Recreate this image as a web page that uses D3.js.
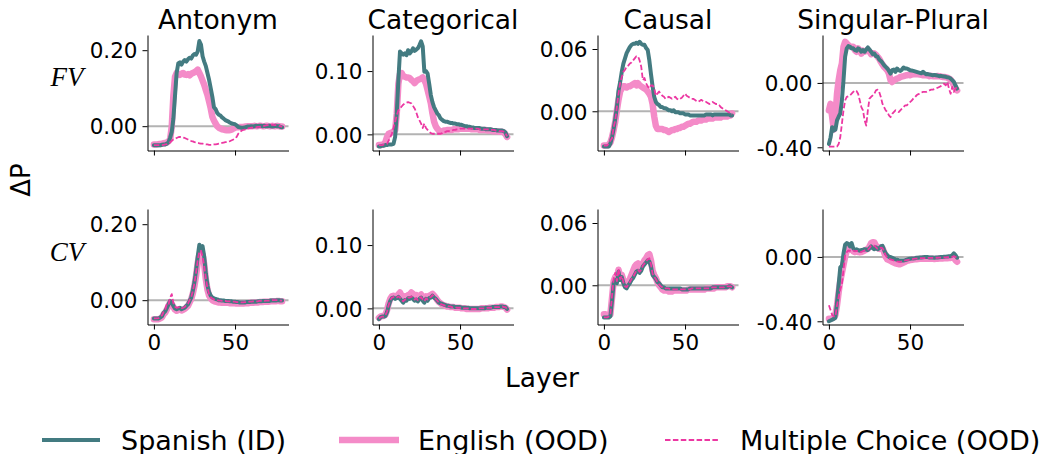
<!DOCTYPE html>
<html>
<head>
<meta charset="utf-8">
<script src="https://cdn.jsdelivr.net/npm/d3@7"></script>
<style>
  body { margin: 0; background: #fff; }
  svg { font-family: "DejaVu Sans", sans-serif; }
</style>
</head>
<body>
<div id="chart"></div>
<script>
// ---- data: delta P per layer (0..79) ----
const tasks = ["Antonym", "Categorical", "Causal", "Singular-Plural"];
const rowLabels = ["FV", "CV"];
const seriesNames = ["English (OOD)", "Spanish (ID)", "Multiple Choice (OOD)"];
const yTicks = [[0, 0.2], [0, 0.1], [0, 0.06], [-0.4, 0]];
const yDomains = [[-0.064, 0.240], [-0.0255, 0.157], [-0.0378, 0.0735], [-0.42, 0.298]];
const xTicks = [0, 50];

// Function vectors (top row)
const antFvSpanish = [-0.05,-0.05,-0.05,-0.05,-0.05,-0.049,-0.048,-0.048,-0.046,-0.042,
  -0.03,-0.015,0.02,0.08,0.14,0.165,0.168,0.162,0.17,0.174,
  0.17,0.176,0.18,0.178,0.186,0.19,0.188,0.197,0.224,0.215,
  0.184,0.17,0.158,0.14,0.122,0.1,0.078,0.05,0.045,0.035,
  0.03,0.028,0.023,0.02,0.016,0.014,0.012,0.009,0.007,0.006,
  0.005,0.002,-0.002,-0.003,-0.004,-0.004,-0.003,-0.002,-0.001,-0.001,
  0.0,-0.001,0.0,0.001,0.0,0.001,0.001,0.0,0.001,0.0,
  0.0,0.001,0.0,-0.001,0.0,0.001,0.0,0.0,-0.002,-0.003];
const antFvEnglish = [-0.048,-0.048,-0.048,-0.047,-0.047,-0.046,-0.045,-0.044,-0.043,-0.04,
  -0.035,0.0,0.08,0.13,0.14,0.138,0.135,0.138,0.14,0.136,
  0.135,0.137,0.134,0.138,0.14,0.142,0.145,0.149,0.14,0.131,
  0.12,0.109,0.095,0.082,0.065,0.047,0.025,0.015,0.007,0.0,
  -0.004,-0.006,-0.008,-0.009,-0.01,-0.011,-0.011,-0.01,-0.009,-0.006,
  -0.004,-0.003,-0.003,-0.002,-0.002,-0.002,-0.001,-0.001,0.0,0.0,
  0.0,0.0,0.001,0.0,0.0,0.001,0.001,0.0,0.0,0.001,
  0.001,0.0,0.0,0.001,0.0,0.0,0.001,0.0,-0.001,-0.001];
const antFvMc = [-0.05,-0.05,-0.05,-0.05,-0.05,-0.05,-0.049,-0.048,-0.047,-0.045,
  -0.042,-0.038,-0.035,-0.033,-0.031,-0.029,-0.028,-0.029,-0.03,-0.031,
  -0.033,-0.035,-0.037,-0.039,-0.04,-0.042,-0.043,-0.044,-0.045,-0.046,
  -0.046,-0.047,-0.048,-0.048,-0.049,-0.049,-0.049,-0.048,-0.048,-0.047,
  -0.046,-0.045,-0.044,-0.043,-0.042,-0.042,-0.04,-0.039,-0.037,-0.035,
  -0.033,-0.028,-0.02,-0.015,-0.012,-0.01,-0.009,-0.007,-0.006,-0.005,
  -0.004,-0.004,-0.003,-0.003,-0.002,-0.002,-0.001,0.0,0.001,0.002,
  0.003,0.003,0.003,0.004,0.003,0.003,0.002,0.001,0.0,-0.002];

const catFvSpanish = [-0.019,-0.019,-0.018,-0.018,-0.017,-0.017,-0.016,-0.016,-0.016,-0.015,
  -0.004,0.033,0.086,0.131,0.128,0.126,0.128,0.125,0.133,0.128,
  0.131,0.136,0.132,0.134,0.136,0.141,0.147,0.139,0.099,0.1,
  0.096,0.08,0.062,0.051,0.043,0.038,0.033,0.03,0.025,0.023,
  0.021,0.02,0.02,0.019,0.018,0.018,0.017,0.017,0.016,0.016,
  0.015,0.015,0.014,0.013,0.013,0.012,0.012,0.011,0.011,0.01,
  0.01,0.01,0.01,0.009,0.009,0.009,0.008,0.008,0.008,0.008,
  0.007,0.007,0.007,0.006,0.006,0.006,0.006,0.005,0.003,-0.003];
const catFvEnglish = [-0.017,-0.017,-0.016,-0.016,-0.012,-0.004,0.001,0.002,0.003,0.005,
  0.006,0.033,0.08,0.096,0.097,0.092,0.091,0.09,0.09,0.089,
  0.086,0.084,0.081,0.084,0.086,0.087,0.088,0.09,0.086,0.08,
  0.07,0.06,0.049,0.033,0.02,0.013,0.009,0.006,0.004,0.005,
  0.006,0.006,0.007,0.007,0.007,0.007,0.008,0.008,0.008,0.008,
  0.009,0.009,0.009,0.009,0.009,0.009,0.009,0.008,0.008,0.008,
  0.008,0.008,0.007,0.007,0.007,0.007,0.007,0.006,0.006,0.006,
  0.005,0.005,0.005,0.005,0.004,0.004,0.004,0.003,0.0,-0.004];
const catFvMc = [-0.017,-0.017,-0.017,-0.016,-0.016,-0.015,-0.01,-0.005,0.001,0.01,
  0.02,0.03,0.038,0.041,0.044,0.047,0.049,0.05,0.051,0.05,
  0.049,0.045,0.041,0.035,0.027,0.022,0.017,0.01,0.017,0.01,
  0.007,0.004,0.002,0.001,0.001,0.001,0.001,0.001,0.001,0.002,
  0.004,0.004,0.005,0.005,0.006,0.006,0.007,0.007,0.008,0.008,
  0.009,0.009,0.009,0.009,0.009,0.009,0.009,0.009,0.009,0.009,
  0.009,0.009,0.008,0.008,0.008,0.008,0.008,0.008,0.007,0.007,
  0.007,0.007,0.006,0.006,0.005,0.005,0.005,0.004,0.002,-0.003];

const cauFvSpanish = [-0.034,-0.034,-0.034,-0.034,-0.031,-0.025,-0.017,-0.007,0.004,0.02,
  0.028,0.038,0.046,0.051,0.056,0.059,0.062,0.064,0.065,0.065,
  0.066,0.065,0.067,0.065,0.064,0.064,0.061,0.059,0.049,0.036,
  0.024,0.014,0.009,0.007,0.006,0.004,0.004,0.003,0.003,0.002,
  0.001,0.001,0.0,0.001,-0.001,-0.001,-0.001,-0.002,-0.002,-0.002,
  -0.003,-0.003,-0.003,-0.004,-0.004,-0.004,-0.004,-0.004,-0.004,-0.004,
  -0.004,-0.004,-0.004,-0.003,-0.003,-0.003,-0.003,-0.004,-0.003,-0.003,
  -0.003,-0.003,-0.003,-0.003,-0.003,-0.003,-0.003,-0.003,-0.004,-0.004];
const cauFvEnglish = [-0.033,-0.033,-0.033,-0.032,-0.03,-0.025,-0.018,-0.01,0.001,0.011,
  0.019,0.022,0.024,0.024,0.023,0.024,0.024,0.025,0.026,0.027,
  0.025,0.027,0.025,0.024,0.023,0.022,0.021,0.019,0.017,0.014,
  0.007,-0.005,-0.014,-0.017,-0.017,-0.017,-0.017,-0.018,-0.018,-0.019,
  -0.02,-0.019,-0.018,-0.018,-0.017,-0.017,-0.016,-0.016,-0.015,-0.015,
  -0.014,-0.013,-0.012,-0.012,-0.011,-0.01,-0.01,-0.01,-0.009,-0.009,
  -0.009,-0.008,-0.008,-0.008,-0.007,-0.007,-0.007,-0.007,-0.006,-0.006,
  -0.006,-0.006,-0.006,-0.005,-0.005,-0.005,-0.005,-0.004,-0.004,-0.002];
const cauFvMc = [-0.033,-0.033,-0.033,-0.031,-0.028,-0.026,-0.015,-0.009,0.004,0.017,
  0.027,0.033,0.038,0.04,0.043,0.044,0.046,0.047,0.049,0.051,
  0.053,0.053,0.049,0.043,0.03,0.032,0.027,0.024,0.022,0.025,
  0.025,0.022,0.015,0.017,0.019,0.017,0.015,0.014,0.012,0.013,
  0.014,0.013,0.012,0.013,0.014,0.012,0.011,0.012,0.013,0.015,
  0.017,0.015,0.014,0.013,0.012,0.012,0.011,0.01,0.009,0.01,
  0.011,0.01,0.009,0.009,0.008,0.007,0.008,0.009,0.008,0.007,
  0.007,0.006,0.004,0.003,0.002,0.001,0.0,-0.001,-0.002,-0.003];

const spFvSpanish = [-0.38,-0.34,-0.275,-0.296,-0.29,-0.233,-0.21,-0.19,-0.108,0.017,
  0.163,0.215,0.229,0.225,0.215,0.215,0.204,0.2,0.215,0.208,
  0.194,0.204,0.194,0.208,0.221,0.208,0.194,0.179,0.183,0.167,
  0.163,0.146,0.137,0.125,0.11,0.1,0.09,0.075,0.058,0.079,
  0.083,0.069,0.09,0.079,0.075,0.083,0.096,0.09,0.09,0.085,
  0.079,0.077,0.075,0.072,0.069,0.066,0.063,0.06,0.069,0.06,
  0.054,0.055,0.052,0.05,0.048,0.05,0.048,0.045,0.042,0.044,
  0.042,0.04,0.038,0.035,0.033,0.027,0.017,0.006,-0.015,-0.035];
const spFvEnglish = [-0.17,-0.13,-0.21,-0.29,-0.21,-0.067,0.017,0.079,0.121,0.225,
  0.256,0.246,0.235,0.225,0.225,0.225,0.204,0.194,0.215,0.204,
  0.183,0.2,0.194,0.2,0.204,0.194,0.179,0.185,0.183,0.175,
  0.163,0.15,0.131,0.115,0.1,0.09,0.079,0.058,0.017,0.006,
  0.017,0.021,0.027,0.03,0.037,0.04,0.042,0.045,0.048,0.05,
  0.048,0.052,0.054,0.054,0.054,0.054,0.052,0.05,0.048,0.048,
  0.048,0.046,0.042,0.044,0.042,0.042,0.042,0.043,0.042,0.04,
  0.037,0.037,0.035,0.033,0.027,0.021,0.006,-0.015,-0.035,-0.046];
const spFvMc = [-0.396,-0.396,-0.396,-0.396,-0.396,-0.396,-0.38,-0.338,-0.254,-0.17,
  -0.108,-0.087,-0.083,-0.077,-0.067,-0.056,-0.046,-0.05,-0.067,-0.108,
  -0.15,-0.17,-0.233,-0.265,-0.17,-0.098,-0.087,-0.077,-0.067,-0.046,
  -0.042,-0.056,-0.087,-0.129,-0.15,-0.17,-0.181,-0.202,-0.213,-0.192,
  -0.181,-0.17,-0.175,-0.181,-0.17,-0.16,-0.15,-0.14,-0.14,-0.13,
  -0.119,-0.11,-0.098,-0.09,-0.077,-0.07,-0.067,-0.06,-0.056,-0.055,
  -0.056,-0.05,-0.046,-0.042,-0.042,-0.038,-0.035,-0.03,-0.025,-0.02,
  -0.015,-0.004,-0.015,0.006,-0.035,-0.067,-0.025,-0.056,-0.035,-0.025];

// Concept vectors (bottom row)
const antCvSpanish = [-0.048,-0.048,-0.048,-0.048,-0.045,-0.042,-0.033,-0.029,-0.02,-0.011,
  -0.002,-0.006,-0.015,-0.022,-0.024,-0.022,-0.02,-0.024,-0.022,-0.02,
  -0.015,-0.011,-0.002,0.007,0.025,0.048,0.079,0.115,0.146,0.137,
  0.142,0.115,0.07,0.039,0.021,0.012,0.007,0.005,0.003,0.002,
  0.0,0.0,-0.001,-0.001,-0.002,-0.002,-0.002,-0.003,-0.003,-0.004,
  -0.004,-0.005,-0.005,-0.006,-0.006,-0.006,-0.006,-0.005,-0.005,-0.005,
  -0.004,-0.004,-0.004,-0.004,-0.003,-0.003,-0.003,-0.002,-0.002,-0.002,
  -0.002,-0.002,-0.001,-0.001,-0.001,-0.001,0.0,0.0,-0.001,-0.001];
const antCvEnglish = [-0.05,-0.05,-0.05,-0.05,-0.048,-0.045,-0.037,-0.033,-0.024,-0.015,
  -0.006,-0.01,-0.018,-0.025,-0.028,-0.026,-0.024,-0.027,-0.025,-0.023,
  -0.019,-0.015,-0.006,0.003,0.018,0.038,0.065,0.098,0.12,0.125,
  0.12,0.095,0.055,0.028,0.012,0.005,0.0,-0.002,-0.004,-0.005,
  -0.006,-0.006,-0.007,-0.007,-0.007,-0.007,-0.007,-0.008,-0.008,-0.008,
  -0.008,-0.009,-0.009,-0.009,-0.009,-0.009,-0.008,-0.008,-0.008,-0.007,
  -0.007,-0.007,-0.006,-0.006,-0.006,-0.005,-0.005,-0.005,-0.004,-0.004,
  -0.004,-0.004,-0.003,-0.003,-0.003,-0.003,-0.002,-0.002,-0.003,-0.003];
const antCvMc = [-0.048,-0.048,-0.048,-0.047,-0.044,-0.04,-0.03,-0.025,-0.01,-0.012,
  0.007,0.016,-0.008,-0.017,-0.02,-0.019,-0.017,-0.021,-0.02,-0.018,
  -0.013,-0.009,0.0,0.008,0.024,0.045,0.073,0.105,0.128,0.13,
  0.115,0.09,0.058,0.032,0.016,0.008,0.004,0.002,0.001,0.0,
  -0.001,-0.001,-0.002,-0.002,-0.002,-0.003,-0.003,-0.003,-0.004,-0.004,
  -0.004,-0.005,-0.005,-0.005,-0.006,-0.006,-0.005,-0.005,-0.005,-0.004,
  -0.004,-0.003,-0.003,-0.003,-0.003,-0.002,-0.002,-0.002,-0.002,-0.001,
  -0.001,-0.001,-0.001,0.0,0.0,0.0,0.0,0.0,-0.001,-0.001];

const catCvSpanish = [-0.017,-0.014,-0.013,-0.013,-0.012,-0.006,0.004,0.012,0.016,0.017,
  0.015,0.016,0.018,0.015,0.012,0.009,0.013,0.012,0.016,0.015,
  0.017,0.015,0.012,0.014,0.011,0.015,0.017,0.012,0.009,0.015,
  0.012,0.016,0.017,0.02,0.017,0.015,0.012,0.009,0.008,0.007,
  0.006,0.005,0.004,0.004,0.003,0.003,0.003,0.002,0.002,0.002,
  0.002,0.001,0.001,0.001,0.001,0.001,0.0,0.0,0.0,0.0,
  0.0,0.0,0.0,0.0,0.0,0.0,0.001,0.001,0.001,0.001,
  0.002,0.002,0.002,0.002,0.002,0.003,0.003,0.002,0.002,-0.001];
const catCvEnglish = [-0.015,-0.013,-0.012,-0.012,-0.01,-0.003,0.008,0.015,0.019,0.02,
  0.019,0.02,0.022,0.025,0.02,0.017,0.019,0.018,0.021,0.022,
  0.025,0.023,0.02,0.021,0.018,0.02,0.022,0.018,0.015,0.019,
  0.017,0.02,0.021,0.023,0.02,0.017,0.013,0.01,0.008,0.006,
  0.005,0.004,0.003,0.003,0.002,0.002,0.002,0.001,0.001,0.001,
  0.001,0.0,0.0,0.0,-0.001,-0.001,-0.001,-0.001,-0.001,-0.001,
  -0.001,-0.001,-0.001,0.0,0.0,0.0,0.0,0.0,0.001,0.001,
  0.001,0.001,0.002,0.002,0.002,0.003,0.003,0.002,0.001,-0.002];
const catCvMc = [-0.016,-0.014,-0.013,-0.013,-0.011,-0.005,0.005,0.013,0.017,0.018,
  0.016,0.017,0.019,0.017,0.013,0.011,0.014,0.014,0.017,0.017,
  0.019,0.017,0.014,0.016,0.013,0.016,0.018,0.014,0.011,0.016,
  0.014,0.017,0.018,0.021,0.018,0.015,0.012,0.009,0.007,0.006,
  0.005,0.004,0.004,0.003,0.003,0.002,0.002,0.002,0.001,0.001,
  0.001,0.001,0.0,0.0,0.0,0.0,0.0,-0.001,-0.001,-0.001,
  -0.001,-0.001,0.0,0.0,0.0,0.0,0.0,0.001,0.001,0.001,
  0.001,0.002,0.002,0.002,0.002,0.003,0.003,0.002,0.002,-0.001];

const cauCvSpanish = [-0.031,-0.031,-0.031,-0.031,-0.03,-0.015,0.002,0.005,0.002,0.013,
  0.005,0.008,0.002,-0.002,-0.003,0.0,0.002,0.005,0.007,0.01,
  0.013,0.014,0.012,0.014,0.018,0.02,0.022,0.024,0.023,0.018,
  0.01,0.008,0.006,0.003,0.002,0.0,-0.002,-0.002,-0.003,-0.003,
  -0.003,-0.003,-0.003,-0.003,-0.003,-0.003,-0.003,-0.003,-0.004,-0.004,
  -0.004,-0.004,-0.004,-0.003,-0.003,-0.003,-0.003,-0.003,-0.003,-0.003,
  -0.003,-0.003,-0.003,-0.003,-0.003,-0.003,-0.003,-0.002,-0.002,-0.002,
  -0.002,-0.002,-0.002,-0.002,-0.002,-0.002,-0.002,-0.001,-0.001,-0.002];
const cauCvEnglish = [-0.028,-0.028,-0.029,-0.029,-0.028,-0.012,0.004,0.008,0.006,0.015,
  0.008,0.01,0.005,0.001,0.0,0.003,0.006,0.01,0.014,0.018,
  0.02,0.021,0.017,0.018,0.021,0.024,0.026,0.029,0.03,0.024,
  0.014,0.01,0.007,0.003,0.0,-0.002,-0.004,-0.005,-0.005,-0.005,
  -0.006,-0.006,-0.006,-0.005,-0.005,-0.005,-0.005,-0.005,-0.005,-0.005,
  -0.005,-0.005,-0.004,-0.004,-0.004,-0.004,-0.004,-0.004,-0.004,-0.004,
  -0.004,-0.004,-0.004,-0.003,-0.003,-0.003,-0.003,-0.003,-0.003,-0.002,
  -0.002,-0.002,-0.002,-0.002,-0.002,-0.002,-0.001,-0.001,-0.001,-0.002];
const cauCvMc = [-0.031,-0.031,-0.031,-0.03,-0.028,-0.01,0.006,0.012,0.004,0.016,
  0.006,0.009,0.003,-0.001,-0.002,0.001,0.003,0.006,0.008,0.011,
  0.014,0.015,0.013,0.015,0.019,0.021,0.023,0.025,0.026,0.02,
  0.011,0.008,0.006,0.003,0.001,-0.001,-0.002,-0.003,-0.003,-0.003,
  -0.003,-0.004,-0.004,-0.004,-0.004,-0.004,-0.004,-0.004,-0.004,-0.004,
  -0.004,-0.004,-0.004,-0.004,-0.003,-0.003,-0.003,-0.003,-0.003,-0.003,
  -0.003,-0.003,-0.003,-0.003,-0.003,-0.003,-0.002,-0.002,-0.002,-0.002,
  -0.002,-0.002,-0.002,-0.002,-0.002,-0.001,-0.001,-0.001,-0.001,-0.002];

const spCvSpanish = [-0.4,-0.395,-0.39,-0.385,-0.378,-0.281,-0.173,-0.065,-0.054,0.022,
  0.076,0.086,0.082,0.065,0.086,0.054,0.043,0.048,0.043,0.039,
  0.043,0.045,0.048,0.046,0.043,0.054,0.065,0.054,0.048,0.06,
  0.048,0.054,0.065,0.069,0.043,0.022,0.011,0.0,0.0,-0.005,
  -0.011,-0.015,-0.017,-0.02,-0.022,-0.022,-0.022,-0.02,-0.017,-0.013,
  -0.011,-0.01,-0.009,-0.008,-0.005,-0.005,-0.004,-0.003,-0.002,-0.001,
  0.0,-0.001,-0.003,-0.004,-0.004,-0.005,-0.004,-0.003,-0.002,-0.001,
  0.0,0.001,0.002,0.003,0.004,0.004,0.01,0.022,0.011,-0.005];
const spCvEnglish = [-0.385,-0.385,-0.38,-0.375,-0.36,-0.3,-0.22,-0.15,-0.1,-0.05,
  0.0,0.04,0.05,0.045,0.05,0.035,0.03,0.035,0.03,0.028,
  0.03,0.035,0.04,0.045,0.05,0.065,0.085,0.092,0.09,0.07,
  0.055,0.05,0.06,0.055,0.03,0.0,-0.015,-0.02,-0.025,-0.03,
  -0.035,-0.04,-0.042,-0.045,-0.045,-0.04,-0.035,-0.03,-0.025,-0.022,
  -0.02,-0.018,-0.016,-0.015,-0.014,-0.013,-0.012,-0.012,-0.012,-0.011,
  -0.011,-0.011,-0.012,-0.012,-0.012,-0.013,-0.012,-0.011,-0.01,-0.01,
  -0.01,-0.009,-0.008,-0.008,-0.007,-0.006,-0.004,-0.006,-0.02,-0.03];
const spCvMc = [-0.3,-0.33,-0.36,-0.37,-0.37,-0.3,-0.25,-0.2,-0.17,-0.08,
  0.01,0.03,0.04,0.038,0.045,0.04,0.035,0.038,0.035,0.03,
  0.032,0.036,0.04,0.042,0.045,0.055,0.07,0.072,0.07,0.06,
  0.05,0.05,0.058,0.055,0.035,0.01,-0.005,-0.012,-0.015,-0.018,
  -0.022,-0.025,-0.028,-0.03,-0.03,-0.028,-0.025,-0.022,-0.02,-0.018,
  -0.016,-0.014,-0.012,-0.011,-0.01,-0.009,-0.008,-0.008,-0.007,-0.007,
  -0.006,-0.006,-0.006,-0.006,-0.006,-0.006,-0.005,-0.005,-0.004,-0.004,
  -0.004,-0.003,-0.003,-0.002,-0.002,-0.001,0.0,0.005,0.0,-0.005];

// panel table: [row][col] -> [english, spanish, mc]  (draw order)
const panels = [
  [[antFvEnglish, antFvSpanish, antFvMc], [catFvEnglish, catFvSpanish, catFvMc],
   [cauFvEnglish, cauFvSpanish, cauFvMc], [spFvEnglish, spFvSpanish, spFvMc]],
  [[antCvEnglish, antCvSpanish, antCvMc], [catCvEnglish, catCvSpanish, catCvMc],
   [cauCvEnglish, cauCvSpanish, cauCvMc], [spCvEnglish, spCvSpanish, spCvMc]]
];

// ---- styles ----
const styles = {
  "Spanish (ID)": { color: "#437b81", width: 4, dash: null },
  "English (OOD)": { color: "#f48bc8", width: 6.5, dash: null },
  "Multiple Choice (OOD)": { color: "#ec37a2", width: 1.8, dash: "5.5,2.4" }
};

const width = 1042, height = 454;
const svg = d3.select("#chart").append("svg")
  .attr("width", width)
  .attr("height", height);

const colLeft = [147.5, 372.5, 597.5, 822.5];
const panelW = 141;
const rowTop = [35, 209];
const panelH = 115.5;

const x = d3.scaleLinear().domain([-3.95, 82.95]).range([0, panelW]);

// matplotlib style labels use a plain hyphen
const fmtY = v => d3.format(".2f")(v).replace("−", "-");

const line = d3.line()
  .x((d, i) => x(i))
  .y(d => d);

panels.forEach((rowPanels, r) => {
  rowPanels.forEach((seriesList, c) => {
    const y = d3.scaleLinear().domain(yDomains[c]).range([panelH, 0]);
    const g = svg.append("g")
      .attr("transform", `translate(${colLeft[c]},${rowTop[r]})`);

    // zero reference line
    g.append("line")
      .attr("x1", 0).attr("x2", panelW)
      .attr("y1", y(0)).attr("y2", y(0))
      .attr("stroke", "#b3b3b3")
      .attr("stroke-width", 2);

    seriesList.forEach((vals, k) => {
      const st = styles[seriesNames[k]];
      g.append("path")
        .datum(vals)
        .attr("fill", "none")
        .attr("stroke", st.color)
        .attr("stroke-width", st.width)
        .attr("stroke-linejoin", "round")
        .attr("stroke-linecap", st.dash ? "butt" : "round")
        .attr("stroke-dasharray", st.dash)
        .attr("d", line.y(d => y(d))(vals));
    });

    // axes
    const yAxis = g.append("g")
      .call(d3.axisLeft(y).tickValues(yTicks[c]).tickFormat(fmtY)
        .tickSize(5).tickSizeOuter(0).tickPadding(5));
    const xAxis = g.append("g")
      .attr("transform", `translate(0,${panelH})`)
      .call(d3.axisBottom(x).tickValues(xTicks).tickSize(5).tickSizeOuter(0).tickPadding(4)
        .tickFormat(r === 1 ? d3.format("d") : () => ""));
    [yAxis, xAxis].forEach(ax => {
      ax.selectAll("path,line").attr("stroke", "#000").attr("stroke-width", 1);
      ax.selectAll("text").attr("fill", "#000")
        .style("font-family", "'DejaVu Sans', sans-serif")
        .style("font-size", "21.5px");
    });
    yAxis.selectAll("text").attr("dy", "0.36em");
    xAxis.selectAll("text").attr("dy", "0.78em");

    if (r === 0) {
      svg.append("text")
        .attr("x", colLeft[c] + panelW / 2)
        .attr("y", 29)
        .attr("text-anchor", "middle")
        .style("font-size", "26.5px")
        .text(tasks[c]);
    }
  });
});

// row labels
rowLabels.forEach((lab, r) => {
  svg.append("text")
    .attr("x", 67)
    .attr("y", [86, 261][r])
    .attr("text-anchor", "middle")
    .style("font-family", "'Liberation Serif', serif")
    .style("font-style", "italic")
    .style("font-size", "27px")
    .text(lab);
});

// y label
svg.append("text")
  .attr("transform", "translate(30,180) rotate(-90)")
  .attr("text-anchor", "middle")
  .style("font-size", "26px")
  .text("ΔP");

// x label
svg.append("text")
  .attr("x", 542)
  .attr("y", 387)
  .attr("text-anchor", "middle")
  .style("font-size", "26.5px")
  .text("Layer");

// legend
const legendItems = [
  { name: "Spanish (ID)", x0: 42, x1: 100, tx: 121 },
  { name: "English (OOD)", x0: 339, x1: 399, tx: 418 },
  { name: "Multiple Choice (OOD)", x0: 665, x1: 718, tx: 740 }
];
const legend = svg.append("g");
legendItems.forEach(it => {
  const st = styles[it.name];
  legend.append("line")
    .attr("x1", it.x0).attr("x2", it.x1)
    .attr("y1", 440).attr("y2", 440)
    .attr("stroke", st.color)
    .attr("stroke-width", st.width)
    .attr("stroke-dasharray", st.dash);
  legend.append("text")
    .attr("x", it.tx)
    .attr("y", 449.5)
    .style("font-size", "27px")
    .text(it.name);
});
</script>
</body>
</html>
